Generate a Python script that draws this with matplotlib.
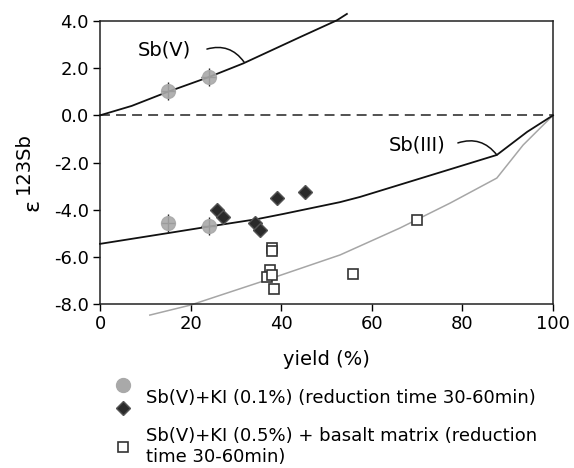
"""Sb isotope fractionation (epsilon 123Sb) vs. reduction yield, with Rayleigh curves."""
import matplotlib
matplotlib.use('Agg')
import matplotlib.pyplot as plt
from matplotlib.lines import Line2D
from matplotlib.legend_handler import HandlerBase

plt.rcParams['font.family'] = ['DejaVu Sans']

# Rayleigh model curves
sb5_x = [0, 7, 15, 24, 31.6, 44.2, 52.3, 54.5]
sb5_y = [0.0, 0.4, 1.0, 1.62, 2.2, 3.32, 4.03, 4.3]
sb3_x = [0, 14.8, 23.6, 34.7, 40.5, 53, 57.4, 72, 87.6, 94.3, 100]
sb3_y = [-5.45, -5.0, -4.73, -4.4, -4.18, -3.68, -3.46, -2.6, -1.68, -0.7, 0.0]
grey_x = [11, 19.9, 36.8, 53, 66.2, 77.3, 87.6, 93.4, 100]
grey_y = [-8.47, -8.05, -6.98, -5.92, -4.78, -3.72, -2.66, -1.26, 0.0]

# measured points
circ_x = [15, 24, 15, 24]
circ_y = [1.05, 1.62, -4.58, -4.7]
circ_xerr = 1.6
circ_yerr = 0.38
dia_x = [25.9, 27.1, 34.2, 35.4, 39.0, 45.2]
dia_y = [-4.01, -4.31, -4.57, -4.86, -3.51, -3.25]
sq_x = [38.0, 38.0, 37.5, 36.9, 38.0, 38.4, 55.9, 69.9]
sq_y = [-5.63, -5.75, -6.56, -6.85, -6.77, -7.37, -6.73, -4.42]

dia_label = 'Sb(V)+KI (0.1%) (reduction time 30-60min)'
sq_label = 'Sb(V)+KI (0.5%) + basalt matrix (reduction\ntime 30-60min)'


class StackedHandler(HandlerBase):
    """Draw a pair of markers stacked vertically for one legend row."""
    def create_artists(self, legend, orig_handle, xdescent, ydescent,
                       width, height, fontsize, trans):
        top, bottom = orig_handle
        cx = width / 2 - xdescent
        cy = height / 2 - ydescent
        arts = []
        for h, dy in ((top, 0.65 * fontsize), (bottom, -0.6 * fontsize)):
            arts.append(Line2D([cx], [cy + dy], linestyle='none',
                               marker=h.get_marker(), markersize=h.get_markersize(),
                               markerfacecolor=h.get_markerfacecolor(),
                               markeredgecolor=h.get_markeredgecolor(),
                               markeredgewidth=h.get_markeredgewidth(),
                               transform=trans))
        return arts


fig = plt.figure(figsize=(5.74, 4.68), dpi=100)
ax = fig.add_axes([100 / 574, 1 - 304 / 468, 453 / 574, 283 / 468])

ax.axhline(0, color='#222222', lw=1.1, dashes=(6.5, 4))
ax.plot(sb5_x, sb5_y, color='#111111', lw=1.3, clip_on=False, zorder=3)
ax.plot(sb3_x, sb3_y, color='#111111', lw=1.3, clip_on=False, zorder=3)
ax.plot(grey_x, grey_y, color='#a6a6a6', lw=1.1, clip_on=False, zorder=2)

ax.errorbar(circ_x, circ_y, xerr=circ_xerr, yerr=circ_yerr, fmt='none',
            ecolor='#222222', elinewidth=1.0, capsize=0, zorder=4)
circ, = ax.plot(circ_x, circ_y, 'o', ms=10, mfc='#a9a9a9', mec='#a9a9a9',
                alpha=0.9, zorder=5)
dia, = ax.plot(dia_x, dia_y, 'D', ms=7, mfc='#2a2a2a', mec='#555555',
               mew=1.0, zorder=5)
sq, = ax.plot(sq_x, sq_y, 's', ms=7.5, mfc='white', mec='#333333',
              mew=1.2, zorder=5)

ax.text(14.3, 2.77, 'Sb(V)', fontsize=14, ha='center', va='center')
ax.annotate('', xy=(31.8, 2.26), xytext=(23.6, 2.81),
            arrowprops=dict(arrowstyle='-', connectionstyle='arc3,rad=-0.35',
                            lw=1.1, color='#111111', shrinkA=0, shrinkB=0))
ax.text(70.1, -1.26, 'Sb(III)', fontsize=14, ha='center', va='center')
ax.annotate('', xy=(87.6, -1.68), xytext=(79.0, -1.17),
            arrowprops=dict(arrowstyle='-', connectionstyle='arc3,rad=-0.35',
                            lw=1.1, color='#111111', shrinkA=0, shrinkB=0))

ax.set_xlim(0, 100)
ax.set_ylim(-8, 4)
ax.set_xticks(range(0, 101, 20))
ax.set_yticks(range(-8, 5, 2))
ax.set_yticklabels([f'{v:.1f}' for v in range(-8, 5, 2)])
ax.tick_params(direction='out', length=5, width=1, labelsize=13, pad=3)
ax.tick_params(axis='x', pad=3)
for s in ax.spines.values():
    s.set_linewidth(1.1)
    s.set_color('#222222')

ax.set_xlabel('yield (%)', fontsize=14, labelpad=12)
# y label: epsilon with a raised "123Sb" of almost the same size
fig.text(33 / 574, 1 - 205 / 468, 'ε', rotation=90, fontsize=16,
         ha='center', va='center')
fig.text(23 / 574, 1 - 163 / 468, '123Sb', rotation=90, fontsize=14,
         ha='center', va='center')

circ_h = Line2D([], [], linestyle='none', marker='o', markersize=10,
                markerfacecolor='#a9a9a9', markeredgecolor='#a9a9a9')
leg = fig.legend([(circ_h, dia), sq], [dia_label, sq_label],
                 handler_map={tuple: StackedHandler()},
                 loc='upper left', bbox_to_anchor=(114 / 574, 1 - 389 / 468),
                 frameon=False, fontsize=13, handlelength=1.0,
                 handletextpad=0.8, labelspacing=1.1, borderpad=0,
                 borderaxespad=0)

fig.savefig('out.png', dpi=100)
